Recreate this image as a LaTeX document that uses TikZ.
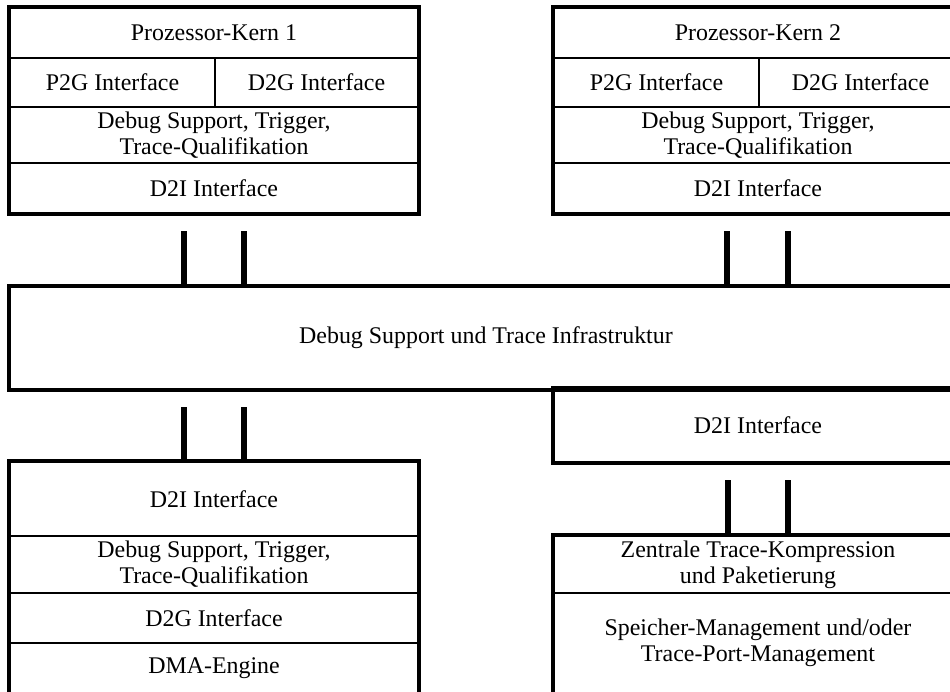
\documentclass[tikz,border=0pt]{standalone}
\usepackage{fontspec}
\setmainfont{Liberation Serif}
\begin{document}
\begin{tikzpicture}[x=0.025cm, y=-0.025cm]
\tikzstyle{every node} = [rectangle, draw, line width=1.4pt, inner sep=0pt, align=center, font=\fontsize{17}{18.5}\selectfont]
\tikzstyle{frame} = [line width=2.2pt]
\tikzstyle{bar} = [line width=4.2pt]
\useasboundingbox (0,0) rectangle (950,692);
% Prozessor-Kern 1
\node[minimum width=10.2cm, minimum height=1.25cm] (kernA) at (214,33) {Prozessor-Kern 1};
\node[minimum width=5.125cm, minimum height=1.225cm] (pgA) at (112.5,82.5) {P2G Interface};
\node[minimum width=5.075cm, minimum height=1.225cm] (dgA) at (316.5,82.5) {D2G Interface};
\node[minimum width=10.2cm, minimum height=1.4cm] (dbgA) at (214,135) {Debug Support, Trigger,\\ Trace-Qualifikation};
\node[minimum width=10.2cm, minimum height=1.25cm] (diA) at (214,188) {D2I Interface};
% Prozessor-Kern 2
\node[minimum width=10.2cm, minimum height=1.25cm] (kernB) at (758,33) {Prozessor-Kern 2};
\node[minimum width=5.125cm, minimum height=1.225cm] (pgB) at (656.5,82.5) {P2G Interface};
\node[minimum width=5.075cm, minimum height=1.225cm] (dgB) at (860.5,82.5) {D2G Interface};
\node[minimum width=10.2cm, minimum height=1.4cm] (dbgB) at (758,135) {Debug Support, Trigger,\\ Trace-Qualifikation};
\node[minimum width=10.2cm, minimum height=1.25cm] (diB) at (758,188) {D2I Interface};
% Infrastruktur
\node[minimum width=23.8cm, minimum height=2.55cm] (infra) at (486,338) {Debug Support und Trace Infrastruktur};
\node[minimum width=10.2cm, minimum height=1.825cm] (diC) at (758,425.5) {D2I Interface};
% DMA
\node[minimum width=10.2cm, minimum height=1.85cm] (diD) at (214,499) {D2I Interface};
\node[minimum width=10.2cm, minimum height=1.425cm] (dbgD) at (214,564.5) {Debug Support, Trigger,\\ Trace-Qualifikation};
\node[minimum width=10.2cm, minimum height=1.25cm] (dgD) at (214,618) {D2G Interface};
\node[minimum width=10.2cm, minimum height=1.25cm] (dma) at (214,668) {DMA-Engine};
% Trace
\node[minimum width=10.2cm, minimum height=1.425cm] (komp) at (758,564.5) {Zentrale Trace-Kompression\\ und Paketierung};
\node[minimum width=10.2cm, minimum height=2.5cm] (spm) at (758,643) {Speicher-Management und/oder\\ Trace-Port-Management};
\draw[frame] (kernA.north west) rectangle (diA.south east);
\draw[frame] (kernB.north west) rectangle (diB.south east);
\draw[frame] (infra.north west) rectangle (infra.south east);
\draw[frame] (diC.north west) rectangle (diC.south east);
\draw[frame] (diD.north west) rectangle (dma.south east);
\draw[frame] (komp.north west) rectangle (spm.south east);
\foreach \x/\name in {184/a, 244/b, 727/c, 788/d} {
\coordinate (up\name) at (\x,231);
\draw[bar] (up\name) -- (up\name |- infra.north);
}
\foreach \x/\name in {184/a, 244/b} {
\coordinate (lo\name) at (\x,407);
\draw[bar] (lo\name) -- (lo\name |- diD.north);
}
\foreach \x/\name in {728/c, 788/d} {
\coordinate (lo\name) at (\x,480);
\draw[bar] (lo\name) -- (lo\name |- komp.north);
}
\end{tikzpicture}
\end{document}
